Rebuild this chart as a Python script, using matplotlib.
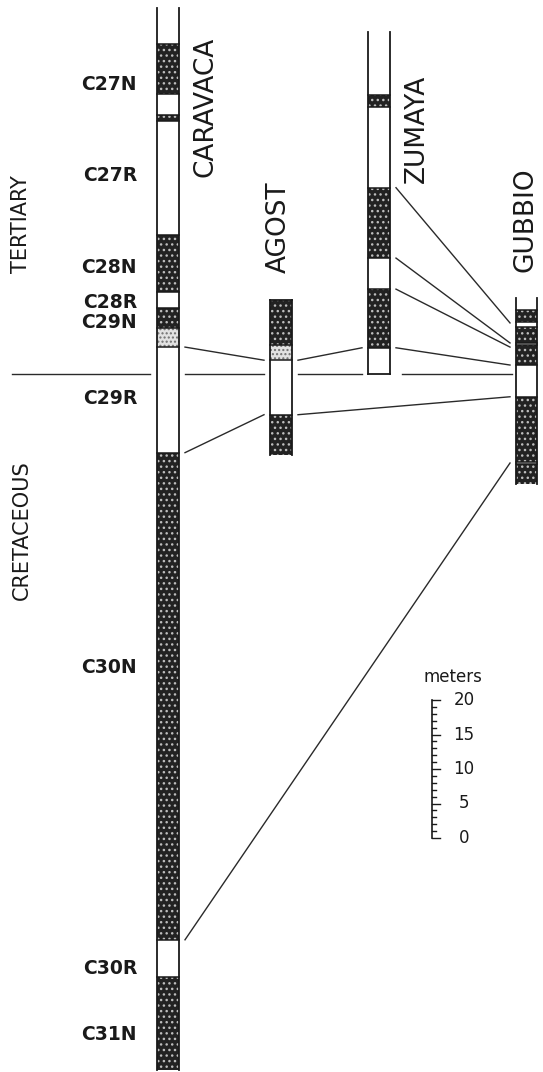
import matplotlib.pyplot as plt
from matplotlib.patches import Rectangle

# polarity zones, boundaries in meters above (+) / below (-) the K/T boundary
# N = normal (dark), R = reversed (white), U = uncertain (light stipple)
caravaca_depth = [53.0, 47.8, 40.6, 37.5, 36.7, 20.1, 11.9, 9.6, 6.7, 3.9, -11.4, -82.0, -87.4, -100.9]
caravaca_pol = ['R', 'N', 'R', 'N', 'R', 'N', 'R', 'N', 'U', 'R', 'N', 'R', 'N']
agost_depth = [10.7, 4.2, 2.0, -5.9, -11.7]
agost_pol = ['N', 'U', 'R', 'N']
zumaya_depth = [49.6, 40.4, 38.7, 27.0, 16.8, 12.3, 3.8, 0.0]
zumaya_pol = ['R', 'N', 'R', 'N', 'R', 'N', 'R']
gubbio_depth = [11.0, 9.3, 7.5, 6.8, 4.5, 4.2, 1.3, -3.3, -12.8, -13.0, -15.9]
gubbio_pol = ['R', 'N', 'R', 'N', 'R', 'N', 'R', 'N', 'R', 'N']

chrons = ['C27N', 'C27R', 'C28N', 'C28R', 'C29N', 'C29R', 'C30N', 'C30R', 'C31N']
chron_y = [41.9, 28.8, 15.5, 10.4, 7.4, -3.5, -42.6, -86.1, -95.7]

# correlation lines between sections: (from, depth, to, depth)
ties = [
    ('CARAVACA', 3.9, 'AGOST', 2.0),
    ('AGOST', 2.0, 'ZUMAYA', 3.8),
    ('ZUMAYA', 3.8, 'GUBBIO', 1.3),
    ('CARAVACA', -11.4, 'AGOST', -5.9),
    ('AGOST', -5.9, 'GUBBIO', -3.3),
    ('ZUMAYA', 27.0, 'GUBBIO', 7.4),
    ('ZUMAYA', 16.8, 'GUBBIO', 4.5),
    ('ZUMAYA', 12.3, 'GUBBIO', 3.9),
    ('CARAVACA', -82.0, 'GUBBIO', -12.9),
]

scale_ticks = list(range(0, 21))
scale_labels = [0, 5, 10, 15, 20]

PX_PER_M = 6.9
KT_PX = 374

# column x-extents and whether the top/bottom ends are closed
cols = {
    'CARAVACA': dict(x=157, w=22, d=caravaca_depth, p=caravaca_pol, top=False, bot=False),
    'AGOST': dict(x=270, w=22, d=agost_depth, p=agost_pol, top=True, bot=False),
    'ZUMAYA': dict(x=368, w=22, d=zumaya_depth, p=zumaya_pol, top=False, bot=True),
    'GUBBIO': dict(x=516, w=21, d=gubbio_depth, p=gubbio_pol, top=False, bot=False),
}
name_pos = {'CARAVACA': (206, 107), 'AGOST': (279, 227), 'ZUMAYA': (417, 129), 'GUBBIO': (526, 220)}

INK = '#1a1a1a'
LINE = '#2a2a2a'

fig = plt.figure(figsize=(5.43, 10.72), dpi=100)
ax = fig.add_axes([0, 0, 1, 1])
ax.set_xlim(0, 543)
ax.set_ylim((KT_PX - 1072) / PX_PER_M, KT_PX / PX_PER_M)
ax.axis('off')


def m(px):
    return (KT_PX - px) / PX_PER_M


for name, c in cols.items():
    x, w, d, p = c['x'], c['w'], c['d'], c['p']
    for i, pol in enumerate(p):
        top, bot = d[i], d[i + 1]
        if pol == 'N':
            ax.add_patch(Rectangle((x, bot), w, top - bot, facecolor='#222222',
                                   edgecolor='#bdbdbd', linewidth=0, hatch='...'))
        elif pol == 'U':
            ax.add_patch(Rectangle((x, bot), w, top - bot, facecolor='#e2e2e2',
                                   edgecolor='#707070', linewidth=0, hatch='....'))
        if i > 0:
            ax.plot([x, x + w], [top, top], color=INK, lw=1.1)
    ax.plot([x, x], [d[0], d[-1]], color=INK, lw=1.3)
    ax.plot([x + w, x + w], [d[0], d[-1]], color=INK, lw=1.3)
    if c['top']:
        ax.plot([x, x + w], [d[0], d[0]], color=INK, lw=1.3)
    if c['bot']:
        ax.plot([x, x + w], [d[-1], d[-1]], color=INK, lw=1.3)
    nx, ny = name_pos[name]
    ax.text(nx, m(ny), name, rotation=90, ha='center', va='center', fontsize=19, color=INK)

# tie lines
gap = 6
for a, da, b, db in ties:
    x0 = cols[a]['x'] + cols[a]['w'] + gap
    x1 = cols[b]['x'] - gap
    ax.plot([x0, x1], [da, db], color=LINE, lw=1.0)

# K/T boundary, broken at each column
kt_segments = [
    (12, cols['CARAVACA']['x'] - 7),
    (cols['CARAVACA']['x'] + cols['CARAVACA']['w'] + gap, cols['AGOST']['x'] - gap),
    (cols['AGOST']['x'] + cols['AGOST']['w'] + gap, cols['ZUMAYA']['x'] - gap),
    (cols['ZUMAYA']['x'] + cols['ZUMAYA']['w'] + 12, cols['GUBBIO']['x'] - 4),
]
for x0, x1 in kt_segments:
    ax.plot([x0, x1], [0, 0], color=LINE, lw=1.0)

# chron names
for lab, y in zip(chrons, chron_y):
    ax.text(137, y, lab, ha='right', va='center', fontsize=13.5, fontweight='bold', color=INK)

ax.text(21, m(224), 'TERTIARY', rotation=90, ha='center', va='center', fontsize=15, color=INK)
ax.text(22, m(530), 'CRETACEOUS', rotation=90, ha='center', va='center', fontsize=15, color=INK)

# scale bar
sx = 432
s0 = m(838)
ax.plot([sx, sx], [s0, s0 + 20], color=INK, lw=1.2)
for t in scale_ticks:
    ln = 8 if t % 5 == 0 else 4
    ax.plot([sx, sx + ln], [s0 + t, s0 + t], color=INK, lw=1.0)
for t in scale_labels:
    ax.text(464, s0 + t, str(t), ha='center', va='center', fontsize=12, color=INK)
ax.text(453, m(677), 'meters', ha='center', va='center', fontsize=12, color=INK)

fig.savefig('out.png', dpi=100, facecolor='white')
